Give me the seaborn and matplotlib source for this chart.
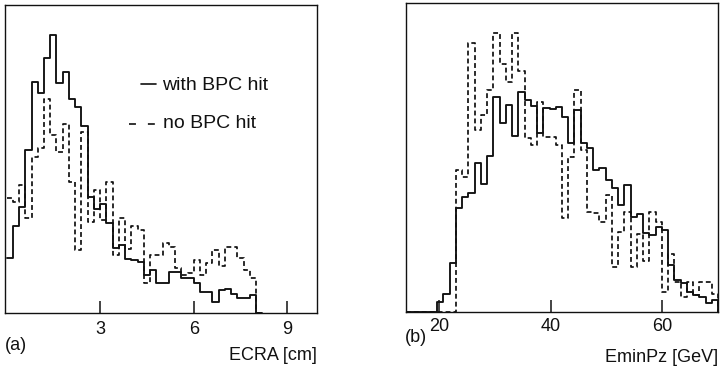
import numpy as np
import pandas as pd
import matplotlib
matplotlib.use("Agg")
import matplotlib.pyplot as plt
from matplotlib.lines import Line2D
import seaborn as sns

# ---- ECRA distribution, 0.2 cm bins from 0 to 8 cm ----
ecra_lo, ecra_hi, ecra_step = 0.0, 8.0, 0.2
ecra_with_bpc = [55, 87, 106, 163, 231, 220, 255, 278, 230, 241,
                 214, 206, 187, 116, 104, 109, 90, 65, 68, 54,
                 53, 51, 38, 43, 30, 30, 41, 41, 35, 35,
                 30, 21, 21, 11, 23, 24, 19, 15, 15, 18]
ecra_no_bpc = [115, 111, 128, 95, 156, 165, 214, 178, 161, 189,
               131, 63, 181, 91, 123, 93, 131, 58, 95, 64,
               87, 83, 30, 58, 58, 70, 66, 45, 38, 40,
               53, 38, 50, 63, 47, 66, 66, 55, 43, 35]
ecra_ticks = [3, 6, 9]
ecra_xlim = (-0.05, 9.95)
ecra_ylim = (0, 308)

# ---- E - pz distribution, 50 bins from 14 to 70 GeV ----
eminpz_lo, eminpz_hi, eminpz_nbins = 14.0, 70.0, 50
eminpz_with_bpc = [0, 0, 0, 0, 0, 10, 18, 49, 104, 115,
                   119, 149, 128, 156, 215, 189, 207, 176, 220, 212,
                   206, 179, 204, 203, 205, 195, 169, 202, 169, 164,
                   142, 144, 132, 124, 107, 127, 95, 98, 79, 77,
                   85, 82, 47, 32, 29, 20, 17, 15, 9, 12]
eminpz_no_bpc = [0, 0, 0, 0, 0, 0, 0, 0, 142, 135,
                 269, 182, 197, 222, 279, 248, 230, 279, 241, 174,
                 167, 210, 175, 175, 167, 94, 155, 222, 162, 100,
                 99, 90, 117, 45, 80, 100, 45, 78, 51, 100,
                 90, 20, 58, 30, 15, 30, 17, 30, 30, 18]
eminpz_ticks = [20, 40, 60]
eminpz_xlim = (14, 70)
eminpz_ylim = (0, 309)

legend_labels = ["with BPC hit", "no BPC hit"]

sns.set_theme(style="white")
plt.rcParams["font.family"] = ["Liberation Sans", "DejaVu Sans"]
plt.rcParams["lines.scale_dashes"] = False

INK = "#111111"
SOLID_KW = dict(color=INK, linewidth=1.35, linestyle="-")
DASH_KW = dict(color=INK, linewidth=1.25, linestyle=(0, (3.5, 2.2)))

W, H = 720, 366
fig = plt.figure(figsize=(W / 100, H / 100), dpi=100)


def px_axes(x0, y0, x1, y1):
    return fig.add_axes([x0 / W, 1 - y1 / H, (x1 - x0) / W, (y1 - y0) / H])


def step_hist(ax, edges, counts, kw):
    # close the outline back to zero after the last filled bin
    edges = np.append(edges, edges[-1] + (edges[-1] - edges[-2]))
    counts = np.append(np.asarray(counts, float), 0.0)
    centers = 0.5 * (edges[:-1] + edges[1:])
    df = pd.DataFrame({"x": centers, "w": counts})
    sns.histplot(data=df, x="x", weights="w", bins=[float(e) for e in edges],
                 element="step", fill=False, stat="count", ax=ax, **kw)


def style_axes(ax, xlim, ylim, ticks, pad):
    ax.set_xlim(*xlim)
    ax.set_ylim(*ylim)
    ax.set_xticks(ticks)
    ax.set_xticklabels([str(t) for t in ticks])
    ax.set_yticks([])
    ax.set_xlabel("")
    ax.set_ylabel("")
    ax.tick_params(axis="x", direction="in", length=9, width=1.1,
                   colors=INK, labelsize=13, pad=pad, bottom=True)
    for sp in ax.spines.values():
        sp.set_visible(True)
        sp.set_color(INK)
        sp.set_linewidth(1.0)


# panel (a)
ax_a = px_axes(5, 5, 317, 313)
ecra_edges = np.round(np.arange(ecra_lo, ecra_hi + ecra_step / 2, ecra_step), 6)
step_hist(ax_a, ecra_edges, ecra_with_bpc, SOLID_KW)
step_hist(ax_a, ecra_edges, ecra_no_bpc, DASH_KW)
style_axes(ax_a, ecra_xlim, ecra_ylim, ecra_ticks, pad=5.5)

# panel (b)
ax_b = px_axes(406, 3, 718, 312)
eminpz_edges = np.linspace(eminpz_lo, eminpz_hi, eminpz_nbins + 1)
step_hist(ax_b, eminpz_edges, eminpz_with_bpc, SOLID_KW)
step_hist(ax_b, eminpz_edges, eminpz_no_bpc, DASH_KW)
style_axes(ax_b, eminpz_xlim, eminpz_ylim, eminpz_ticks, pad=4.5)

# legend drawn inside panel (a)
fig.add_artist(Line2D([141 / W, 156 / W], [1 - 84 / H, 1 - 84 / H],
                      transform=fig.transFigure, color=INK, linewidth=1.2))
fig.add_artist(Line2D([129 / W, 156 / W], [1 - 123.5 / H, 1 - 123.5 / H],
                      transform=fig.transFigure, color=INK, linewidth=1.2,
                      linestyle=(0, (5.0, 8.6))))
fig.text(162 / W, 1 - 86 / H, legend_labels[0], fontsize=14, color=INK,
         ha="left", va="center")
fig.text(163 / W, 1 - 124 / H, legend_labels[1], fontsize=14, color=INK,
         ha="left", va="center")

# panel tags and axis titles
fig.text(5 / W, 1 - 345 / H, "(a)", fontsize=13, color=INK, ha="left", va="center")
fig.text(317 / W, 1 - 355 / H, "ECRA [cm]", fontsize=13, color=INK,
         ha="right", va="center")
fig.text(405 / W, 1 - 337 / H, "(b)", fontsize=13, color=INK, ha="left", va="center")
fig.text(718 / W, 1 - 357 / H, "EminPz [GeV]", fontsize=13, color=INK,
         ha="right", va="center")

fig.savefig("out.png", dpi=100)
